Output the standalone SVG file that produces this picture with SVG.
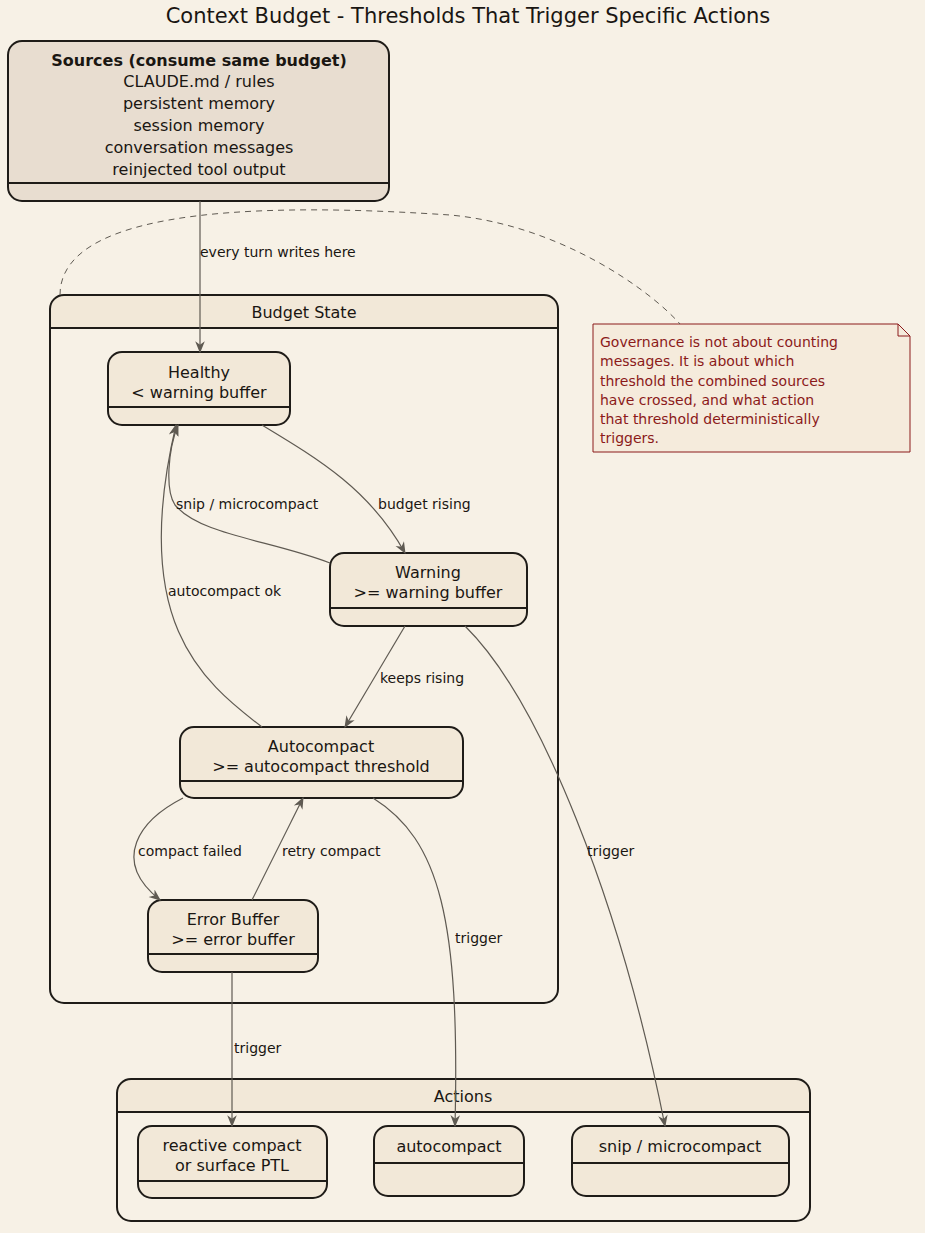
<svg xmlns="http://www.w3.org/2000/svg" width="925" height="1233" viewBox="0 0 925 1233">
<defs>
<style>
text{font-family:"DejaVu Sans",sans-serif;fill:#1a1612}
.t{font-size:16px;text-anchor:middle}
.l{font-size:14px}
.n{fill:#F2E8D8;stroke:#1f1c18;stroke-width:2}
.s{stroke:#1f1c18;stroke-width:2}
.c{fill:#F7F1E6;stroke:#1f1c18;stroke-width:2}
.e{fill:none;stroke:#5f5a52;stroke-width:1.2;marker-end:url(#a)}
.note{font-size:14px;fill:#8B1A1A}
</style>
<marker id="a" viewBox="0 0 10 10" refX="9" refY="5" markerWidth="10" markerHeight="10" orient="auto"><path d="M0,1 L10,5 L0,9 L3,5 Z" fill="#5f5a52"/></marker>
</defs>
<rect width="925" height="1233" fill="#F7F1E6"/>
<text x="468" y="23" font-size="21" text-anchor="middle">Context Budget - Thresholds That Trigger Specific Actions</text>
<g id="sources">
<rect x="8" y="41" width="381" height="160" rx="14" fill="#E8DDD0" stroke="#1f1c18" stroke-width="2"/>
<line x1="8" y1="183" x2="389" y2="183" class="s"/>
<text class="t" x="199" y="66" font-weight="bold">Sources (consume same budget)</text>
<text class="t" x="199" y="87">CLAUDE.md / rules</text>
<text class="t" x="199" y="109">persistent memory</text>
<text class="t" x="199" y="131">session memory</text>
<text class="t" x="199" y="153">conversation messages</text>
<text class="t" x="199" y="175">reinjected tool output</text>
</g>
<g id="budget_state">
<path d="M50,328 V309 Q50,295 64,295 H544 Q558,295 558,309 V328 Z" fill="#F2E8D8"/>
<rect x="50" y="295" width="508" height="708" rx="14" fill="none" stroke="#1f1c18" stroke-width="2"/>
<line x1="50" y1="328" x2="558" y2="328" class="s"/>
<text class="t" x="304" y="318">Budget State</text>
</g>
<g id="healthy"><rect class="n" x="108" y="352" width="182" height="73" rx="14"/><line class="s" x1="108" y1="407" x2="290" y2="407"/><text class="t" x="199" y="378">Healthy</text><text class="t" x="199" y="398">&lt; warning buffer</text></g>
<g id="warning"><rect class="n" x="330" y="553" width="197" height="73" rx="14"/><line class="s" x1="330" y1="608" x2="527" y2="608"/><text class="t" x="428" y="578">Warning</text><text class="t" x="428" y="598">&gt;= warning buffer</text></g>
<g id="autocompact_state"><rect class="n" x="180" y="727" width="283" height="71" rx="14"/><line class="s" x1="180" y1="781" x2="463" y2="781"/><text class="t" x="321" y="752">Autocompact</text><text class="t" x="321" y="772">&gt;= autocompact threshold</text></g>
<g id="error_buffer"><rect class="n" x="148" y="900" width="170" height="72" rx="14"/><line class="s" x1="148" y1="954" x2="318" y2="954"/><text class="t" x="233" y="925">Error Buffer</text><text class="t" x="233" y="945">&gt;= error buffer</text></g>
<g id="actions">
<path d="M117,1112 V1093 Q117,1079 131,1079 H796 Q810,1079 810,1093 V1112 Z" fill="#F2E8D8"/>
<rect x="117" y="1079" width="693" height="142" rx="14" fill="none" stroke="#1f1c18" stroke-width="2"/>
<line x1="117" y1="1112" x2="810" y2="1112" class="s"/>
<text class="t" x="463" y="1102">Actions</text>
</g>
<g id="reactive"><rect class="n" x="138" y="1126" width="189" height="72" rx="14"/><line class="s" x1="138" y1="1181" x2="327" y2="1181"/><text class="t" x="232" y="1151">reactive compact</text><text class="t" x="232" y="1171">or surface PTL</text></g>
<g id="autocompact_action"><rect class="n" x="374" y="1126" width="150" height="70" rx="14"/><line class="s" x1="374" y1="1163" x2="524" y2="1163"/><text class="t" x="449" y="1152">autocompact</text></g>
<g id="snip_action"><rect class="n" x="572" y="1126" width="217" height="70" rx="14"/><line class="s" x1="572" y1="1163" x2="789" y2="1163"/><text class="t" x="680" y="1152">snip / microcompact</text></g>
<g id="note">
<path d="M593,324 H898 L910,336 V452 H593 Z" fill="#F5EBDC" stroke="#8B1A1A" stroke-width="1"/>
<path d="M898,324 V336 H910" fill="none" stroke="#8B1A1A" stroke-width="1"/>
<text class="note" x="600" y="347">Governance is not about counting</text>
<text class="note" x="600" y="366">messages. It is about which</text>
<text class="note" x="600" y="386">threshold the combined sources</text>
<text class="note" x="600" y="405">have crossed, and what action</text>
<text class="note" x="600" y="424">that threshold deterministically</text>
<text class="note" x="600" y="443">triggers.</text>
</g>
<g id="connectors">
<path d="M60,295 C60,200 300,205 450,215 C560,225 650,290 680,324" fill="none" stroke="#5f5a52" stroke-dasharray="6,5"/>
<path class="e" d="M200,201 V352"/>
<text class="l" x="200" y="257">every turn writes here</text>
<path class="e" d="M262,425 C320,460 370,490 405,553"/>
<text class="l" x="378" y="509">budget rising</text>
<path class="e" d="M330,563 C270,540 200,535 175,505 C165,490 168,450 178,425"/>
<text class="l" x="176" y="509">snip / microcompact</text>
<path class="e" d="M262,727 C200,680 130,620 176,425"/>
<text class="l" x="168" y="596">autocompact ok</text>
<path class="e" d="M405,626 L345,727"/>
<text class="l" x="380" y="683">keeps rising</text>
<path class="e" d="M465,626 C540,700 620,900 665,1126"/>
<text class="l" x="587" y="856">trigger</text>
<path class="e" d="M183,798 C140,820 110,860 160,900"/>
<text class="l" x="138" y="856">compact failed</text>
<path class="e" d="M252,900 L303,798"/>
<text class="l" x="282" y="856">retry compact</text>
<path class="e" d="M373,798 C440,840 460,920 455,1126"/>
<text class="l" x="455" y="943">trigger</text>
<path class="e" d="M232,972 V1126"/>
<text class="l" x="234" y="1053">trigger</text>
</g>
</svg>
